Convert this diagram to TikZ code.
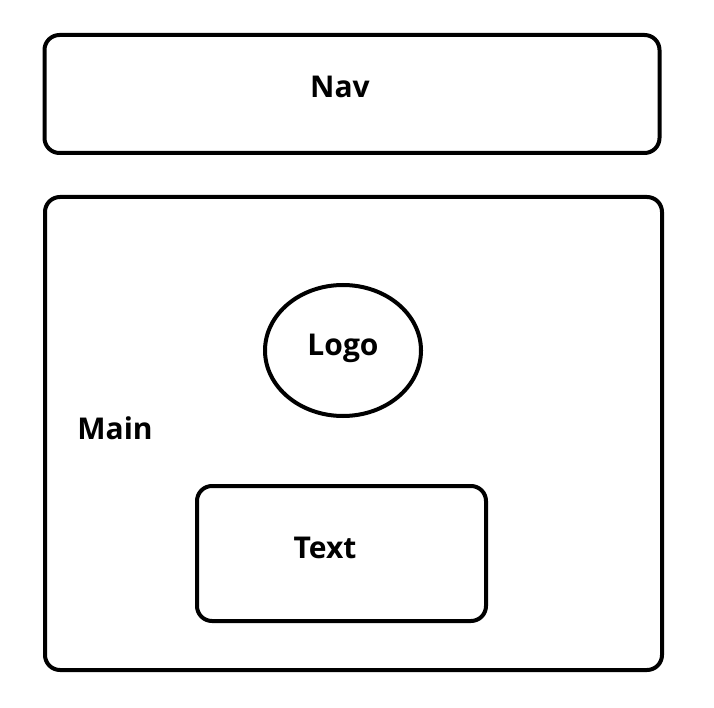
\documentclass[tikz,border=0pt]{standalone}
\usepackage{fontspec}
\setmainfont{Open Sans}
\usepackage{tikz}
\usetikzlibrary{shapes.geometric}

\tikzset{
    panel/.style={draw, line width=4pt, rounded corners=15pt, inner sep=0pt, outer sep=0pt},
    blob/.style={draw, ellipse, line width=4pt, inner sep=0pt, outer sep=0pt},
    tag/.style={font=\fontsize{30}{36}\selectfont\bfseries, inner sep=0pt}
}

\begin{document}
\begin{tikzpicture}[x=1pt,y=-1pt]
        % page frame
        \useasboundingbox (0,0) rectangle (714,708);
    % boxes
    \node[panel, minimum width=615pt, minimum height=118pt] (nav) at (352,94) {};
    \node[panel, minimum width=617pt, minimum height=473pt] (main) at (353.5,433.5) {};
    \node[blob, minimum width=156pt, minimum height=131pt] (logo) at (343,350.5) {};
    \node[panel, minimum width=289pt, minimum height=135pt] (text) at (341.5,553.5) {};
    % labels
    \node[tag] (navlabel) at (340,87) {Nav};
    \node[tag] (logolabel) at (343,348) {Logo};
    \node[tag] (mainlabel) at (115,428) {Main};
    \node[tag] (textlabel) at (325,548) {Text};
\end{tikzpicture}
\end{document}
